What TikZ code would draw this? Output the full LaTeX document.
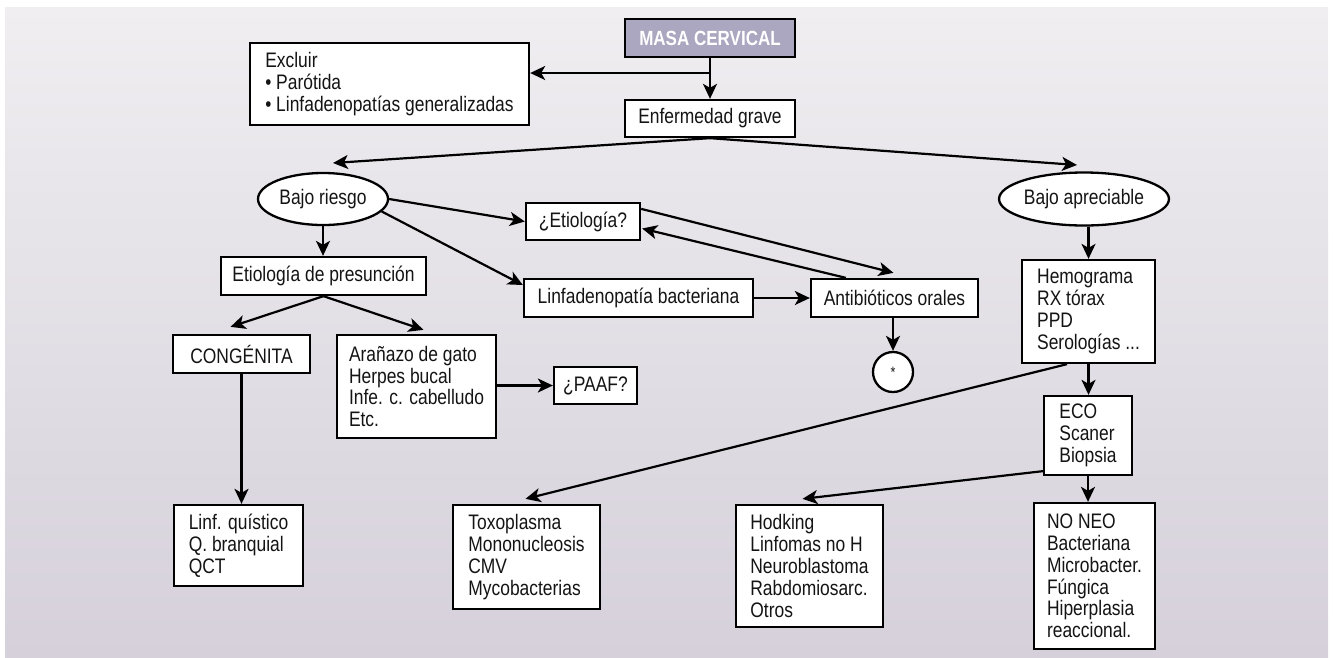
\documentclass[tikz,border=0pt]{standalone}
\usepackage{fontspec}
\setmainfont[FakeStretch=0.83]{Liberation Sans}
\usetikzlibrary{arrows.meta,calc,shapes.geometric}
\definecolor{bgtop}{HTML}{F0EEF1}
\definecolor{bgbot}{HTML}{D5D0DA}
\definecolor{masafill}{HTML}{ABA7C0}
\definecolor{ink}{HTML}{141414}
\begin{document}
\begin{tikzpicture}[x=1pt,y=-1pt,
  every node/.style={font=\fontsize{21}{21.8}\selectfont, text=ink},
  box/.style={draw=black, fill=white, line width=2.3pt, inner sep=0pt, align=left},
  oval/.style={ellipse, draw=black, fill=white, line width=2.3pt, inner sep=0pt},
  arr/.style={line width=2.2pt, -{Stealth[length=15pt,width=14pt,inset=4pt]}},
  ln/.style={line width=2.2pt}]
\useasboundingbox (0,0) rectangle (1335,657);
\shade[top color=bgtop, bottom color=bgbot] (5,7) rectangle (1328,657);

% nodes
\node[box, fill=masafill, minimum width=170pt, minimum height=38pt, text=white,
  font=\fontsize{20.5}{22}\selectfont\bfseries] (masa) at (710,38) {MASA CERVICAL};
\node[box, minimum width=279pt, minimum height=82pt] (excluir) at (389.5,84)
  {Excluir\\\textbullet\ Parótida\\\textbullet\ Linfadenopatías generalizadas};
\node[box, minimum width=170pt, minimum height=37pt] (enf) at (710,118.5) {Enfermedad grave};
\node[oval, minimum width=130pt, minimum height=52pt] (briesgo) at (323,199) {Bajo riesgo};
\node[oval, minimum width=152pt, minimum height=53pt] (bapre) at (1084,199) {Bajo apreciable};
\node[box, minimum width=114pt, minimum height=37pt] (etio) at (583,221.5) {¿Etiología?};
\node[box, minimum width=229pt, minimum height=38pt] (linfb) at (638.5,298) {Linfadenopatía bacteriana};
\node[box, minimum width=167pt, minimum height=38pt] (antib) at (894.5,298) {Antibióticos orales};
\node[circle, draw=black, fill=white, line width=2.3pt, minimum size=40pt, inner sep=0pt,
  font=\fontsize{15}{15}\selectfont] (star) at (893,372) {*};
\node[box, minimum width=205pt, minimum height=38pt] (etpres) at (323.5,276) {Etiología de presunción};
\node[box, minimum width=137pt, minimum height=38pt] (cong) at (241.5,354) {CONGÉNITA};
\node[box, minimum width=159pt, minimum height=103pt] (aran) at (416.5,386.5)
  {Arañazo de gato\\Herpes bucal\\Infe. c. cabelludo\\Etc.};
\node[box, minimum width=83pt, minimum height=37pt] (paaf) at (595.5,385.5) {¿PAAF?};
\node[box, minimum width=129pt, minimum height=81pt] (linfq) at (238.5,545.5)
  {Linf. quístico\\Q. branquial\\QCT};
\node[box, minimum width=133pt, minimum height=103pt] (hemo) at (1088.5,311.5)
  {Hemograma\\RX tórax\\PPD\\Serologías ...};
\node[box, minimum width=88pt, minimum height=79pt] (eco) at (1088,435.5)
  {ECO\\Scaner\\Biopsia};
\node[box, minimum width=147pt, minimum height=104pt] (toxo) at (526.5,557)
  {Toxoplasma\\Mononucleosis\\CMV\\Mycobacterias};
\node[box, minimum width=147pt, minimum height=122pt] (hod) at (809.5,566)
  {Hodking\\Linfomas no H\\Neuroblastoma\\Rabdomiosarc.\\Otros};
\node[box, minimum width=121pt, minimum height=146pt] (noneo) at (1094.5,576)
  {NO NEO\\Bacteriana\\Microbacter.\\Fúngica\\Hiperplasia\\reaccional.};

% connectors
\coordinate (j1) at (710,73);
\coordinate (tl) at (333,163);
\coordinate (tr) at (1077,165);
\draw[arr] (masa.south) -- (enf.north);
\draw[arr] (j1) -- (j1 -| excluir.east);
\draw[arr] (enf.south) -- (tl);
\draw[arr] (enf.south) -- (tr);
\draw[arr] (briesgo.east) -- (etio.west);
\draw[arr] (briesgo.-12) -- ($(linfb.west)+(0,-13)$);
\draw[arr] (linfb.east) -- (antib.west);
\draw[arr] ($(etio.north east)+(0,7)$) -- ($(antib.north)+(-1,-5)$);
\draw[arr] ($(antib.north west)+(36,0)$) -- ($(etio.east)+(1,7)$);
\draw[arr] (antib.south -| star.north) -- (star.north);
\draw[arr] (briesgo.south) -- (briesgo.south |- etpres.north);
\draw[arr] (etpres.south) -- ($(cong.north)+(-11,-7)$);
\draw[arr] (etpres.south) -- ($(aran.north)+(7,-4)$);
\draw[arr] (aran.east |- paaf.west) -- (paaf.west);
\draw[arr] (cong.south) -- (cong.south |- linfq.north);
\draw[arr] (hemo.north |- bapre.south) -- (hemo.north);
\draw[arr] (hemo.south) -- (hemo.south |- eco.north);
\draw[arr] ($(hemo.south)+(-21.5,0)$) -- ($(toxo.north)+(-1,-5)$);
\draw[arr] ($(eco.south west)+(0,-5)$) -- ($(hod.north)+(-7,-5)$);
\draw[arr] (eco.south) -- (eco.south |- noneo.north);
\end{tikzpicture}
\end{document}
